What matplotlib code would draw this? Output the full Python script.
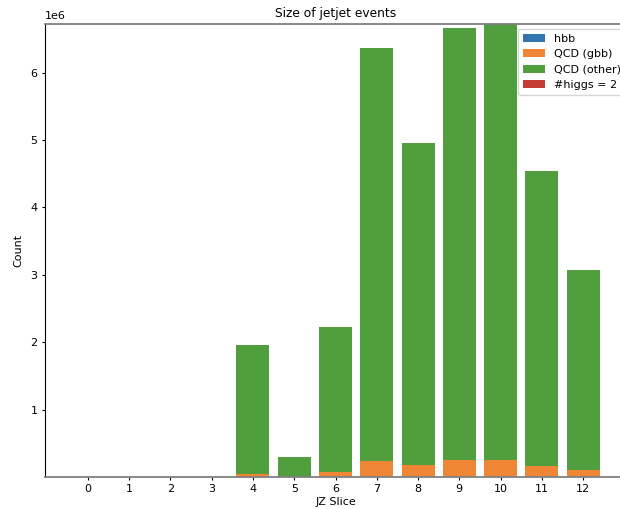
import matplotlib
matplotlib.use("Agg")
import matplotlib.pyplot as plt
import numpy as np

slices = list(range(13))
hbb = [0, 0, 0, 0, 0, 0, 0, 0, 0, 0, 0, 0, 0]
qcd_gbb = [0, 0, 0, 0, 0.05e6, 0.005e6, 0.074e6, 0.233e6, 0.183e6, 0.248e6, 0.248e6, 0.158e6, 0.104e6]
qcd_other_total = [0, 0, 0, 0, 1.966e6, 0.30e6, 2.23e6, 6.37e6, 4.96e6, 6.66e6, 6.73e6, 4.54e6, 3.07e6]
higgs2 = [0, 0, 0, 0, 0, 0, 0, 0, 0, 0, 0, 0, 0]

qcd_other = [t - g for t, g in zip(qcd_other_total, qcd_gbb)]

colors = {"hbb": "#3274b0", "gbb": "#ee8636", "other": "#519e3e", "higgs": "#c43b33"}

fig = plt.figure(figsize=(6.2, 5.09), dpi=100)
ax = fig.add_axes([45 / 620, 1 - 477 / 509, (626 - 45) / 620, (477 - 23.5) / 509])

x = np.array(slices)
bottom = np.zeros(len(x))
ax.bar(x, hbb, width=0.8, bottom=bottom, color=colors["hbb"], label="hbb")
bottom += np.array(hbb)
ax.bar(x, qcd_gbb, width=0.8, bottom=bottom, color=colors["gbb"], label="QCD (gbb)")
bottom += np.array(qcd_gbb)
ax.bar(x, qcd_other, width=0.8, bottom=bottom, color=colors["other"], label="QCD (other)")
bottom += np.array(qcd_other)
ax.bar(x, higgs2, width=0.8, bottom=bottom, color=colors["higgs"], label="#higgs = 2")

ax.set_xticks(x)
ax.set_xticklabels([str(s) for s in slices])
ax.set_ylim(0, max(qcd_other_total))
ax.set_yticks([1e6, 2e6, 3e6, 4e6, 5e6, 6e6])
ax.tick_params(labelsize=8, length=1.9, pad=3.5)
ax.yaxis.get_offset_text().set_fontsize(8)

ax.set_xlabel("JZ Slice", fontsize=8, labelpad=2)
ax.set_ylabel("Count", fontsize=8, labelpad=5)
ax.set_title("Size of jetjet events", fontsize=8.8, pad=5)

for side in ("top", "bottom"):
    ax.spines[side].set_color("#808080")
    ax.spines[side].set_linewidth(1.3)

ax.legend(loc="upper right", bbox_to_anchor=(1.0 + 5 / 581, 1.0), fontsize=8, framealpha=0.8)

fig.savefig("out.png", dpi=100)
